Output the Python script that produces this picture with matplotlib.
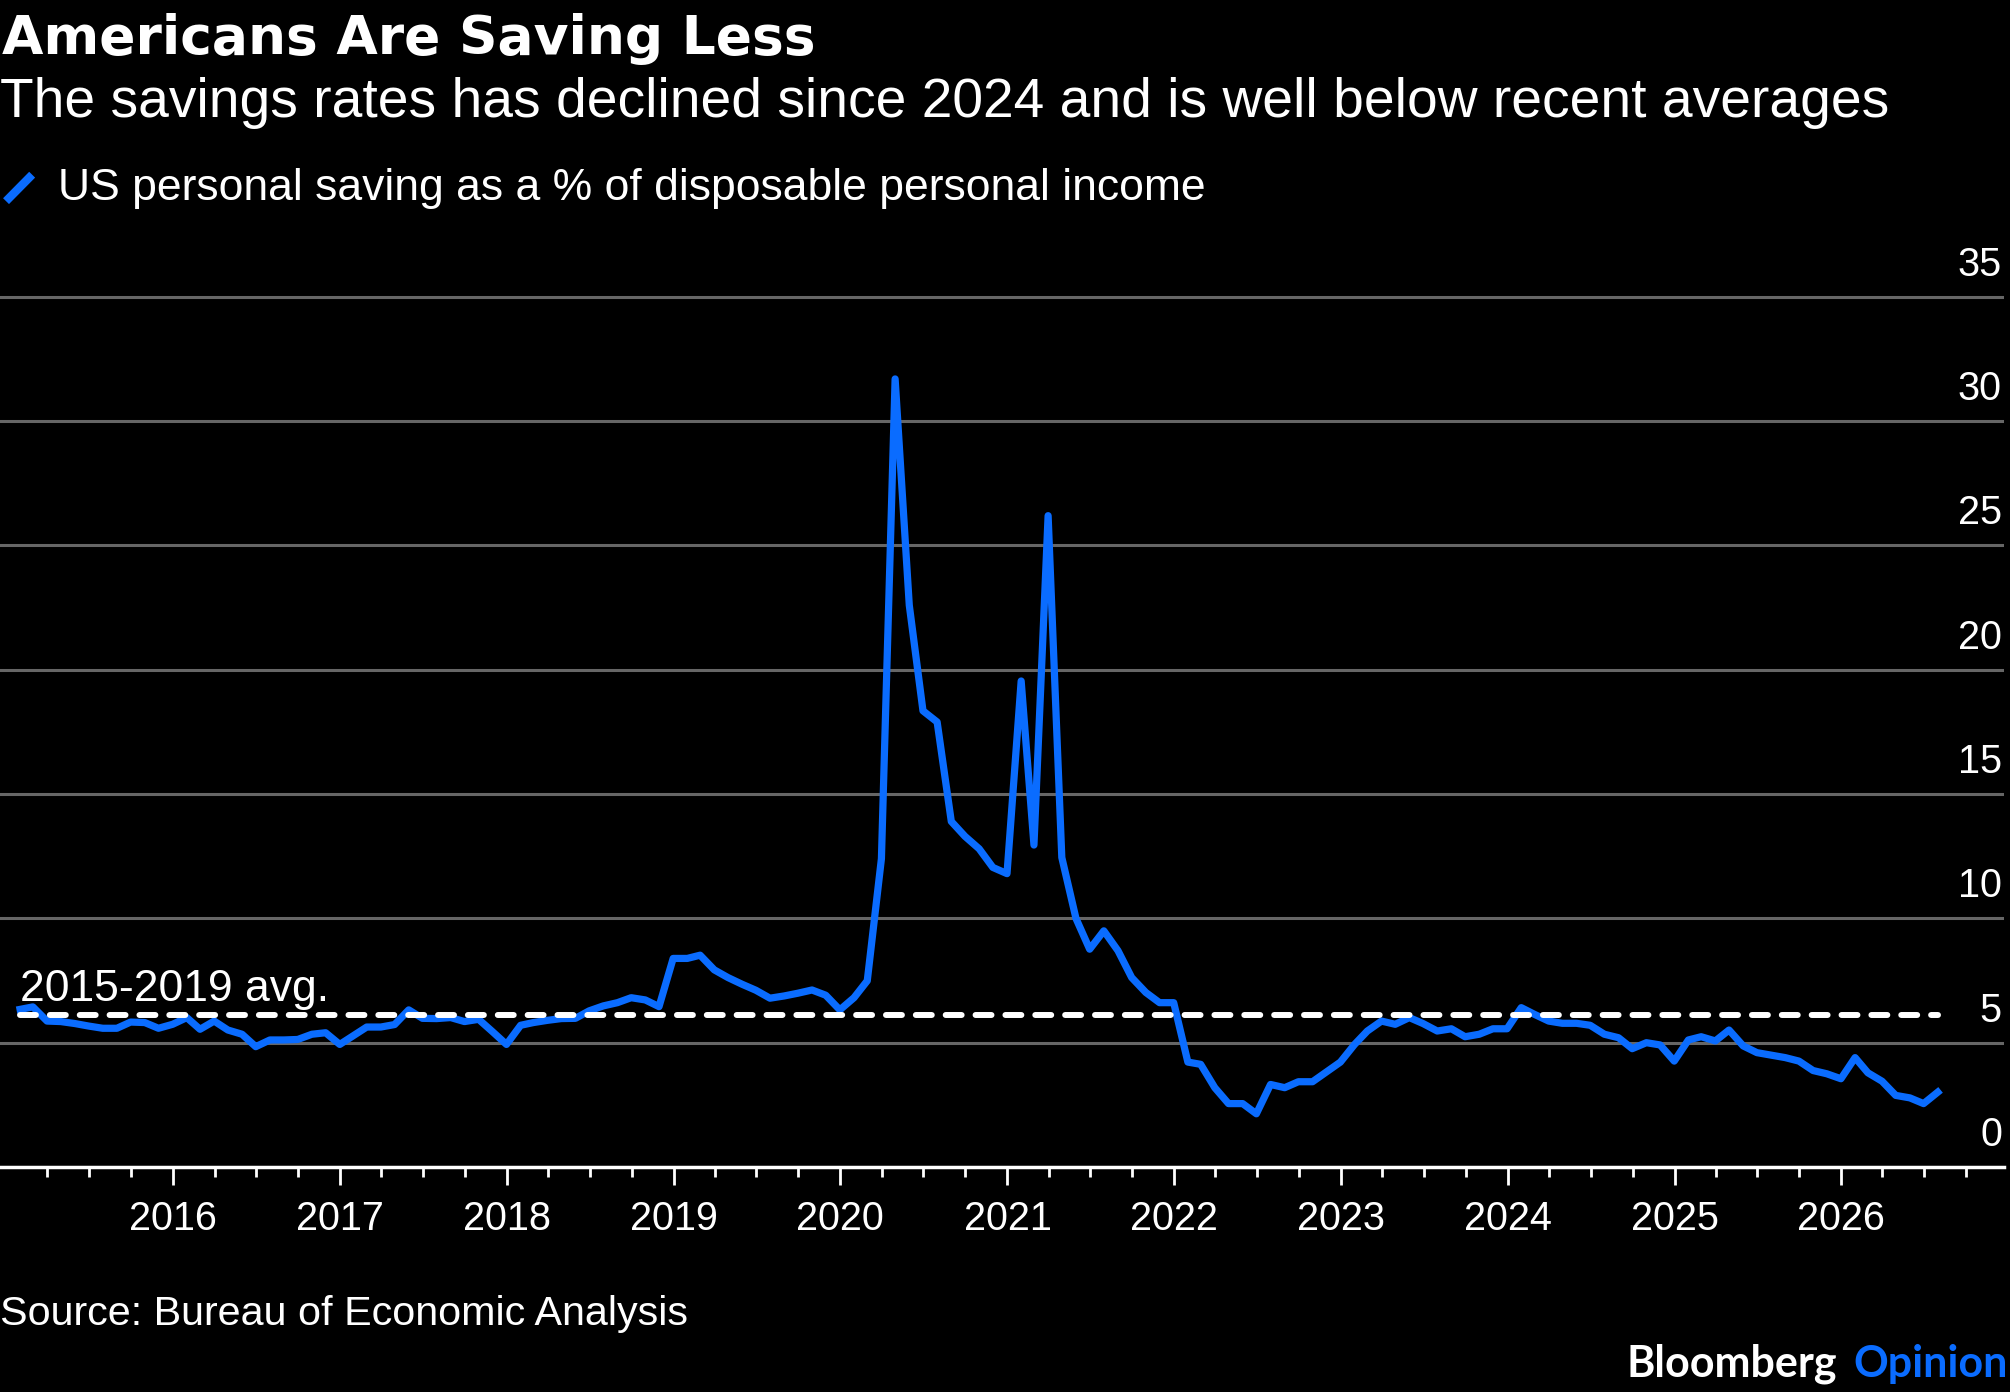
import matplotlib
matplotlib.use("Agg")
import matplotlib.pyplot as plt
import matplotlib.dates as mdates
from matplotlib.lines import Line2D
import pandas as pd

plt.rcParams["font.family"] = ["Liberation Sans", "DejaVu Sans"]

BLUE = "#0a6cff"
GRID = "#666666"

# monthly personal saving rate, % of disposable income (month-end), Jan 2015 onwards
SAVING_RATE = [
    6.34, 6.44, 5.87, 5.85, 5.77, 5.67, 5.58, 5.58, 5.83, 5.81, 5.58, 5.74,
    6.01, 5.54, 5.87, 5.51, 5.34, 4.84, 5.11, 5.11, 5.13, 5.34, 5.40, 4.93,
    5.30, 5.63, 5.63, 5.73, 6.32, 5.98, 5.97, 6.01, 5.85, 5.94, 5.45, 4.93,
    5.70, 5.81, 5.90, 5.97, 5.98, 6.28, 6.48, 6.61, 6.81, 6.72, 6.45, 8.39,
    8.39, 8.52, 7.93, 7.62, 7.35, 7.11, 6.79, 6.88, 6.99, 7.12, 6.91, 6.32,
    6.81, 7.49, 12.4, 31.7, 22.6, 18.35, 17.9, 13.9, 13.3, 12.8, 12.05, 11.8,
    19.55, 12.95, 26.2, 12.45, 10.0, 8.76, 9.5, 8.7, 7.62, 7.02, 6.61, 6.61,
    4.22, 4.13, 3.19, 2.55, 2.55, 2.14, 3.32, 3.19, 3.43, 3.43, 3.82, 4.22,
    4.93, 5.47, 5.87, 5.74, 6.01, 5.77, 5.47, 5.56, 5.24, 5.34, 5.56, 5.56,
    6.41, 6.14, 5.87, 5.78, 5.78, 5.70, 5.34, 5.20, 4.76, 5.00, 4.91, 4.26,
    5.11, 5.24, 5.07, 5.51, 4.87, 4.60, 4.50, 4.40, 4.26, 3.88, 3.75, 3.55,
    4.40, 3.79, 3.45, 2.88, 2.78, 2.55, 3.01,
]
START_MONTH = "2015-01-01"
AVG_2015_2019 = 6.1
AVG_LABEL = "2015-2019 avg."

YTICKS = [0, 5, 10, 15, 20, 25, 30, 35]
YEAR_TICKS = list(range(2016, 2027))

TITLE = "Americans Are Saving Less"
SUBTITLE = "The savings rates has declined since 2024 and is well below recent averages"
LEGEND_LABEL = "US personal saving as a % of disposable personal income"
SOURCE = "Source: Bureau of Economic Analysis"


def main() -> None:
    dates = pd.date_range(START_MONTH, periods=len(SAVING_RATE), freq="MS") + pd.offsets.MonthEnd(1)
    series = pd.Series(SAVING_RATE, index=dates)

    fig = plt.figure(figsize=(20.1, 13.92), dpi=100)
    fig.patch.set_facecolor("black")
    ax = fig.add_axes([0.0, 0.16164, 0.997, 0.6608])
    ax.set_facecolor("black")

    ax.plot(series.index, series.values, color=BLUE, linewidth=5.2, zorder=4)
    ax.plot(
        [series.index[0], series.index[-1]],
        [AVG_2015_2019, AVG_2015_2019],
        color="white",
        linewidth=4.3,
        dashes=(2.67, 2.33),
        dash_capstyle="round",
        zorder=5,
    )
    ax.annotate(
        AVG_LABEL,
        xy=(series.index[0], AVG_2015_2019),
        xytext=(0, 14),
        textcoords="offset pixels",
        ha="left",
        va="baseline",
        fontsize=32,
        color="white",
        zorder=6,
    )

    ax.set_xlim(pd.Timestamp("2014-12-18"), pd.Timestamp("2026-12-23"))
    ax.set_ylim(0, 37)

    ax.set_yticks(YTICKS)
    ax.tick_params(axis="y", left=False, right=False, labelleft=False, labelright=False)
    ax.grid(axis="y", color=GRID, linewidth=2.2)
    ax.grid(axis="x", visible=False)
    for value in YTICKS:
        ax.annotate(
            str(value),
            xy=(0.999, value),
            xycoords=("axes fraction", "data"),
            xytext=(0, 21),
            textcoords="offset pixels",
            ha="right",
            va="baseline",
            fontsize=28.5,
            color="white",
            annotation_clip=False,
        )

    ax.xaxis.set_minor_locator(mdates.MonthLocator(bymonth=[4, 7, 10]))
    ax.set_xticks([pd.Timestamp(f"{y}-01-01") for y in YEAR_TICKS])
    ax.set_xticklabels([str(y) for y in YEAR_TICKS])
    ax.tick_params(axis="x", which="major", colors="white", length=13, width=2, labelsize=28.5, pad=10.5)
    ax.tick_params(axis="x", which="minor", colors="white", length=7, width=2)

    for side in ["top", "left", "right"]:
        ax.spines[side].set_visible(False)
    ax.spines["bottom"].set_color("white")
    ax.spines["bottom"].set_linewidth(2.5)
    ax.spines["bottom"].set_zorder(6)

    fig.text(0.001, 0.9612, TITLE, fontsize=38.5, weight="bold", family="DejaVu Sans",
             color="white", ha="left", va="baseline")
    fig.text(0.0, 0.9159, SUBTITLE, fontsize=39.7, color="white", ha="left", va="baseline")

    fig.add_artist(Line2D([0.003, 0.0160], [0.8555, 0.8745], transform=fig.transFigure,
                          color=BLUE, linewidth=6, solid_capstyle="butt"))
    fig.text(0.0290, 0.8563, LEGEND_LABEL, fontsize=32, color="white", ha="left", va="baseline")

    fig.text(0.0, 0.0481, SOURCE, fontsize=29.7, color="white", ha="left", va="baseline")
    fig.text(0.9139, 0.0108, "Bloomberg", fontsize=31, weight="bold", family=["Lato", "DejaVu Sans"],
             color="white", ha="right", va="baseline")
    fig.text(0.999, 0.0108, "Opinion", fontsize=31, weight="bold", family=["Lato", "DejaVu Sans"],
             color=BLUE, ha="right", va="baseline")

    fig.savefig("out.png", dpi=100, facecolor=fig.get_facecolor())
    plt.close(fig)


if __name__ == "__main__":
    main()
